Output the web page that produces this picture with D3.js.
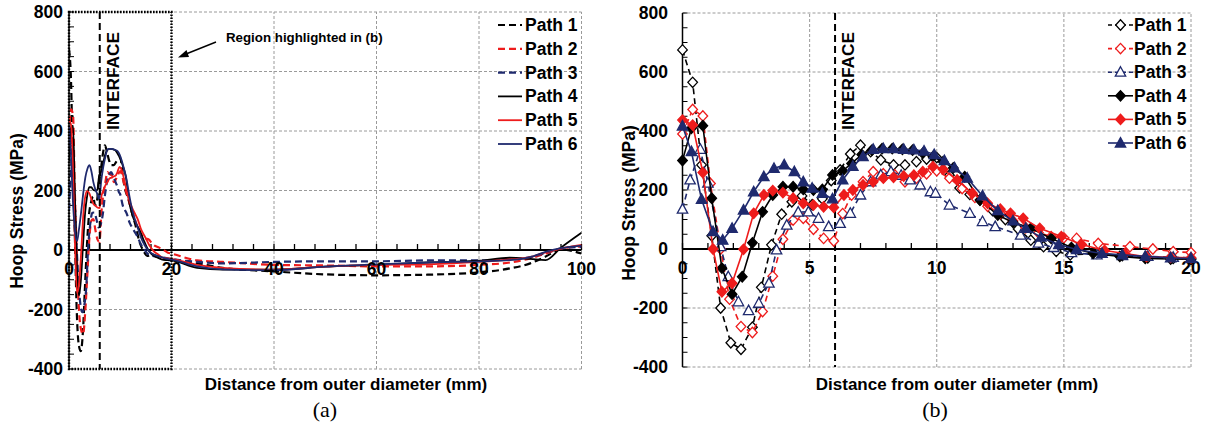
<!DOCTYPE html>
<html><head><meta charset="utf-8">
<script src="https://cdn.jsdelivr.net/npm/d3@7/dist/d3.min.js"></script>
<style>
html,body{margin:0;padding:0;background:#fff;}
svg{display:block;}
text{font-family:"Liberation Sans",Arial,sans-serif;}
</style></head>
<body>
<svg id="chart" width="1210" height="423"></svg>
<script>
// ---------------- DATA ----------------
const seriesNames = ["Path 1","Path 2","Path 3","Path 4","Path 5","Path 6"];
const seriesColors = ["#000000","#ee1c1c","#1f2a6e","#000000","#ee1c1c","#1f2a6e"];

// distances (mm) and hoop stress (MPa), 0-20 mm
const p1x = [0,0.4,0.75,1.15,1.5,1.9,2.3,2.75,3.1,3.5,3.9,4.3,4.7,5.1,5.5,5.85,6.2,6.6,7.0,7.4,7.8,8.3,8.75,9.2,9.6,10.0,10.5,10.9,11.3,11.7,12.2,12.7,13.2,13.7,14.2,14.7,15.25,16.3,17.3,18.3,19.3,20];
const p1y = [675,565,285,45,-200,-318,-340,-265,-130,14,118,160,180,150,170,232,268,322,352,330,302,285,285,296,305,310,250,207,185,166,130,100,68,30,8,-8,-20,-15,-22,-30,-32,-33];

const p2x = [0,0.4,0.8,1.1,1.5,1.85,2.3,2.75,3.15,3.55,3.95,4.35,4.75,5.15,5.55,5.95,6.3,6.65,7.1,7.5,7.9,8.35,8.75,9.2,9.6,10.0,10.5,11.0,11.5,12.0,12.5,13.0,13.5,14.0,14.5,15.0,15.5,16.35,17.6,18.5,19.3,20];
const p2y = [390,473,451,222,0,-170,-263,-283,-212,-92,33,98,104,67,36,27,120,183,228,262,255,251,228,240,255,265,240,205,175,145,120,95,72,55,42,38,36,19,8,0,-9,-12];

const p3x = [0,0.3,0.7,1.0,1.5,1.8,2.2,2.6,3.0,3.4,3.7,4.1,4.55,4.95,5.35,5.75,6.2,6.6,7.0,7.4,7.8,8.2,8.6,8.95,9.35,9.75,9.95,10.5,11.3,11.8,12.3,13.3,14.0,14.6,15.3,16.3,17.3,18.3,19.3,20];
const p3y = [135,234,338,223,8,-94,-179,-209,-184,-116,-3,81,125,126,104,76,87,121,183,228,251,262,250,234,217,194,189,149,121,93,76,47,20,5,-12,-20,-22,-25,-28,-30];

const p4x = [0,0.35,0.8,1.15,1.55,1.95,2.35,2.75,3.15,3.55,3.95,4.35,4.75,5.15,5.5,5.9,6.3,6.65,7.05,7.45,7.85,8.25,8.65,9.05,9.45,9.85,10.25,10.65,11.1,11.7,12.4,13.0,13.7,14.5,15.3,16.15,17.2,18.2,19.2,20];
const p4y = [300,409,418,172,-65,-153,-94,21,126,183,211,211,202,200,202,251,265,290,320,335,340,340,338,335,325,313,296,275,245,166,115,90,70,36,5,-15,-25,-32,-34,-35];

const p5x = [0,0.4,0.8,1.2,1.55,1.95,2.4,2.8,3.2,3.55,3.95,4.35,4.75,5.15,5.55,5.95,6.35,6.7,7.1,7.5,7.9,8.3,8.7,9.1,9.45,9.85,10.25,10.8,11.4,12.0,12.5,12.9,13.4,14.05,14.9,15.7,16.6,17.4,18.25,19.2,20];
const p5y = [437,420,259,0,-145,-116,-1,121,183,198,191,172,155,149,143,141,183,200,217,228,240,243,247,250,262,279,270,234,189,155,135,121,104,70,42,15,-5,-15,-26,-28,-30];

const p6x = [0,0.35,0.75,1.2,1.58,1.95,2.4,2.8,3.2,3.6,4.0,4.4,4.75,5.1,5.5,5.9,6.3,6.7,7.1,7.5,7.9,8.3,8.7,9.1,9.5,9.9,10.3,10.7,11.2,11.8,12.4,13.0,13.5,14.1,14.8,15.5,16.5,17.3,18.2,19.2,20];
const p6y = [417,330,168,59,30,70,132,194,245,273,285,262,228,206,189,170,234,280,313,338,340,340,338,336,332,320,300,275,240,180,130,95,70,40,15,-2,-15,-20,-25,-30,-32];

// tails beyond 20 mm (panel a only)
const tailX  = [25,30,40,50,60,70,80,86,90,93,96,100];
const t1y = [-45,-60,-72,-82,-85,-83,-75,-62,-45,-22,2,-12];
const t2y = [-35,-40,-50,-52,-55,-55,-50,-42,-28,-12,5,12];
const t3y = [-40,-45,-40,-38,-38,-35,-35,-32,-24,-10,5,10];
const t4y = [-60,-66,-66,-56,-50,-42,-36,-26,-30,-34,8,58];
const t5y = [-50,-60,-66,-56,-50,-48,-40,-32,-24,-8,5,17];
const t6y = [-55,-65,-68,-56,-48,-42,-38,-34,-24,-6,6,15];

const xTicksA = [0,20,40,60,80,100];
const xTicksB = [0,5,10,15,20];
const yTicks  = [-400,-200,0,200,400,600,800];

// ---------------- HELPERS ----------------
const svg = d3.select("#chart");
const bold = "bold";
const allX = [p1x,p2x,p3x,p4x,p5x,p6x];
const allY = [p1y,p2y,p3y,p4y,p5y,p6y];
const tails = [t1y,t2y,t3y,t4y,t5y,t6y];
const dashed = [true,true,true,false,false,false];
const markerType = ["diamond","diamond","triangle","diamond","diamond","triangle"];
const filled = [false,false,false,true,true,true];

function zip(xs, ys){ return xs.map((x,i)=>({x:x,y:ys[i]})); }

function drawFrame(g, x, y, xt, minorStep){
  const [x0,x1] = x.range();
  g.selectAll(".gx").data(xt.filter(v=>v!==0)).join("line")
    .attr("x1",d=>x(d)).attr("x2",d=>x(d)).attr("y1",y(-400)).attr("y2",y(800))
    .attr("stroke","#9a9a9a").attr("stroke-width",1).attr("stroke-dasharray","3,2");
  g.selectAll(".gy").data(yTicks.filter(v=>v!==0)).join("line")
    .attr("x1",x0).attr("x2",x1).attr("y1",d=>y(d)).attr("y2",d=>y(d))
    .attr("stroke","#9a9a9a").attr("stroke-width",1).attr("stroke-dasharray","3,2");
  g.append("line").attr("x1",x0).attr("x2",x0).attr("y1",y(-400)).attr("y2",y(800))
    .attr("stroke","#000").attr("stroke-width",1.5);
  const yMinor = d3.range(-400,801,50);
  g.selectAll(".ym").data(yMinor).join("line")
    .attr("x1",x0).attr("x2",x0+5).attr("y1",d=>y(d)).attr("y2",d=>y(d))
    .attr("stroke","#000").attr("stroke-width",1);
  g.append("line").attr("x1",x0).attr("x2",x1).attr("y1",y(0)).attr("y2",y(0))
    .attr("stroke","#000").attr("stroke-width",2);
  const dom = x.domain();
  const xMinor = d3.range(dom[0],dom[1]+0.001,minorStep);
  g.selectAll(".xm").data(xMinor).join("line")
    .attr("x1",d=>x(d)).attr("x2",d=>x(d)).attr("y1",y(0)).attr("y2",y(0)-6)
    .attr("stroke","#000").attr("stroke-width",1.3);
}

function tickLabels(g, x, y, xt, yLabelX){
  g.selectAll(".yl").data(yTicks).join("text")
    .attr("x",yLabelX).attr("y",d=>y(d)).attr("text-anchor","end")
    .attr("dominant-baseline","central").attr("font-size",17.5).attr("font-weight",bold)
    .text(d=>d);
  g.selectAll(".xl").data(xt).join("text")
    .attr("x",d=>x(d)).attr("y",y(0)+19).attr("text-anchor","middle")
    .attr("dominant-baseline","central").attr("font-size",17.5).attr("font-weight",bold)
    .text(d=>d);
}

function diamondPath(w,h){ return `M0,${-h}L${w},0L0,${h}L${-w},0Z`; }
function trianglePath(w,h){ return `M0,${-h*0.58}L${w},${h*0.42}L${-w},${h*0.42}Z`; }
function markerD(t){ return t==="diamond" ? diamondPath(4.8,5.2) : trianglePath(5.2,9.5); }

// ---------------- PANEL A ----------------
const xA = d3.scaleLinear().domain([0,100]).range([69,581.5]);
const yA = d3.scaleLinear().domain([-400,800]).range([369,12]);
const gA = svg.append("g");
svg.append("defs").append("clipPath").attr("id","clipA").append("rect")
  .attr("x",xA(0)).attr("y",yA(800)).attr("width",xA(100)-xA(0)).attr("height",yA(-400)-yA(800));
drawFrame(gA, xA, yA, xTicksA, 4);

const lineA = d3.line().x(d=>xA(d.x)).y(d=>yA(d.y)).curve(d3.curveMonotoneX);
const gLinesA = gA.append("g").attr("clip-path","url(#clipA)");
for(let i=0;i<6;i++){
  const pts = zip(allX[i],allY[i]).concat(zip(tailX,tails[i]));
  gLinesA.append("path").datum(pts).attr("d",lineA).attr("fill","none")
    .attr("stroke",seriesColors[i]).attr("stroke-width",dashed[i]?2.2:1.8)
    .attr("stroke-dasharray",dashed[i]?"7,4":null);
}
gA.append("rect").attr("x",xA(0)).attr("y",yA(800)).attr("width",xA(20)-xA(0)).attr("height",yA(-400)-yA(800))
  .attr("fill","none").attr("stroke","#000").attr("stroke-width",2.4).attr("stroke-dasharray","1.6,1.4");
gA.append("line").attr("x1",xA(6)).attr("x2",xA(6)).attr("y1",yA(800)).attr("y2",yA(-400))
  .attr("stroke","#000").attr("stroke-width",2).attr("stroke-dasharray","7,4");
gA.append("text").attr("transform",`translate(${xA(6)+13},32) rotate(-90)`)
  .attr("text-anchor","end").attr("dominant-baseline","central")
  .attr("font-size",17.3).attr("font-weight",bold).text("INTERFACE");
tickLabels(gA, xA, yA, xTicksA, 63);
gA.append("text").attr("x",226).attr("y",37).attr("dominant-baseline","central")
  .attr("font-size",13.3).attr("font-weight",bold).text("Region highlighted in (b)");
gA.append("line").attr("x1",216).attr("y1",42).attr("x2",186).attr("y2",54)
  .attr("stroke","#000").attr("stroke-width",1.5);
gA.append("path").attr("d","M178,57.5L186.5,50L189,57Z").attr("fill","#000");
const legA = gA.append("g");
seriesNames.forEach((n,i)=>{
  const yy = 25 + i*23.8;
  legA.append("line").attr("x1",498).attr("x2",522).attr("y1",yy).attr("y2",yy)
    .attr("stroke",seriesColors[i]).attr("stroke-width",dashed[i]?2.2:1.8)
    .attr("stroke-dasharray",dashed[i]?"7,4":null);
  legA.append("text").attr("x",525).attr("y",yy).attr("dominant-baseline","central")
    .attr("font-size",17.5).attr("font-weight",bold).text(n);
});
gA.append("text").attr("transform",`translate(17,211) rotate(-90)`).attr("text-anchor","middle")
  .attr("dominant-baseline","central").attr("font-size",17.5).attr("font-weight",bold).text("Hoop Stress (MPa)");
gA.append("text").attr("x",346).attr("y",384).attr("text-anchor","middle").attr("dominant-baseline","central")
  .attr("font-size",17).attr("font-weight",bold).text("Distance from outer diameter (mm)");
gA.append("text").attr("x",325).attr("y",409).attr("text-anchor","middle").attr("dominant-baseline","central")
  .attr("font-size",22).style("font-family","'Liberation Serif','Times New Roman',serif").text("(a)");

// ---------------- PANEL B ----------------
const xB = d3.scaleLinear().domain([0,20]).range([682.5,1191]);
const yB = d3.scaleLinear().domain([-400,800]).range([367,13]);
const gB = svg.append("g");
drawFrame(gB, xB, yB, xTicksB, 1);
gB.append("line").attr("x1",xB(6)).attr("x2",xB(6)).attr("y1",yB(800)).attr("y2",yB(-400))
  .attr("stroke","#000").attr("stroke-width",2).attr("stroke-dasharray","7,4");
gB.append("text").attr("transform",`translate(${xB(6)+13},32) rotate(-90)`)
  .attr("text-anchor","end").attr("dominant-baseline","central")
  .attr("font-size",17.3).attr("font-weight",bold).text("INTERFACE");
tickLabels(gB, xB, yB, xTicksB, 668);

const lineB = d3.line().x(d=>xB(d.x)).y(d=>yB(d.y));
for(let i=0;i<6;i++){
  const pts = zip(allX[i],allY[i]);
  const gs = gB.append("g");
  gs.append("path").datum(pts).attr("d",lineB).attr("fill","none")
    .attr("stroke",seriesColors[i]).attr("stroke-width",1.6)
    .attr("stroke-dasharray",dashed[i]?"6,4":null);
  gs.selectAll("path.m").data(pts).join("path").attr("class","m")
    .attr("transform",d=>`translate(${xB(d.x)},${yB(d.y)})`)
    .attr("d",markerD(markerType[i]))
    .attr("fill",filled[i]?seriesColors[i]:"#fff")
    .attr("stroke",seriesColors[i]).attr("stroke-width",1.3);
}
const legB = gB.append("g");
seriesNames.forEach((n,i)=>{
  const yy = 25 + i*23.6;
  legB.append("line").attr("x1",1108).attr("x2",1133).attr("y1",yy).attr("y2",yy)
    .attr("stroke",seriesColors[i]).attr("stroke-width",1.6)
    .attr("stroke-dasharray",dashed[i]?"4,3":null);
  legB.append("path").attr("transform",`translate(1120.5,${yy})`).attr("d",markerD(markerType[i]))
    .attr("fill",filled[i]?seriesColors[i]:"#fff").attr("stroke",seriesColors[i]).attr("stroke-width",1.3);
  legB.append("text").attr("x",1134).attr("y",yy).attr("dominant-baseline","central")
    .attr("font-size",17.5).attr("font-weight",bold).text(n);
});
gB.append("text").attr("transform",`translate(629,203) rotate(-90)`).attr("text-anchor","middle")
  .attr("dominant-baseline","central").attr("font-size",17.5).attr("font-weight",bold).text("Hoop Stress (MPa)");
gB.append("text").attr("x",957).attr("y",384).attr("text-anchor","middle").attr("dominant-baseline","central")
  .attr("font-size",17).attr("font-weight",bold).text("Distance from outer diameter (mm)");
gB.append("text").attr("x",935).attr("y",409).attr("text-anchor","middle").attr("dominant-baseline","central")
  .attr("font-size",22).style("font-family","'Liberation Serif','Times New Roman',serif").text("(b)");
</script>
</body></html>
